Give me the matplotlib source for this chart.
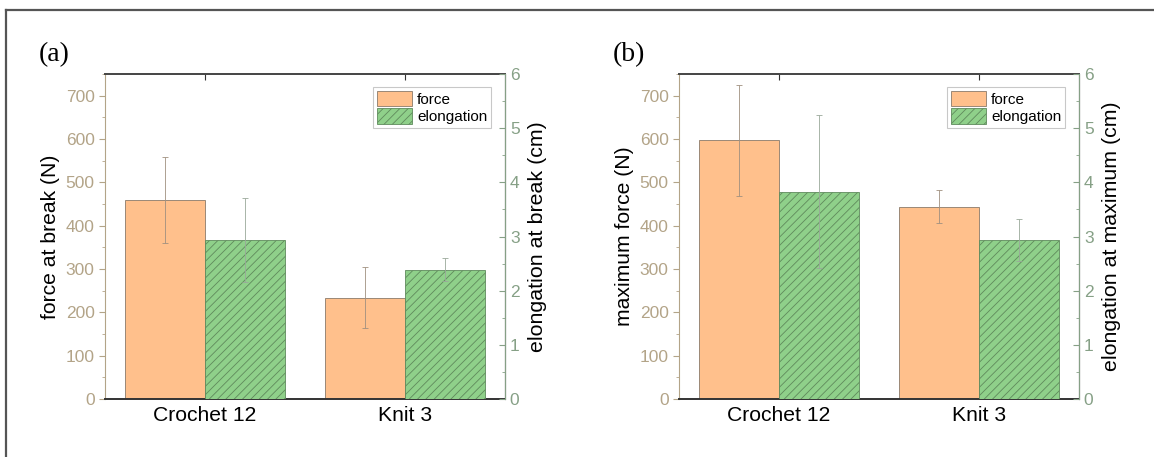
import numpy as np
import matplotlib
matplotlib.use("Agg")
import matplotlib.pyplot as plt
from matplotlib.lines import Line2D

plt.rcParams['font.family'] = ['Liberation Sans', 'DejaVu Sans']
plt.rcParams['hatch.linewidth'] = 0.6

# data
samples = ["Crochet 12", "Knit 3"]

break_force = [460, 234]
break_force_err = [99, 71]
break_elong = [2.94, 2.39]
break_elong_err = [0.78, 0.21]

max_force = [597, 444]
max_force_err = [128, 38]
max_elong = [3.83, 2.94]
max_elong_err = [1.41, 0.39]

panels = [
    ("(a)", "force at break (N)", "elongation at break (cm)",
     break_force, break_force_err, break_elong, break_elong_err),
    ("(b)", "maximum force (N)", "elongation at maximum (cm)",
     max_force, max_force_err, max_elong, max_elong_err),
]

tan = "#b3a488"
sage = "#86a086"
peach = "#ffc08c"
green = "#8fd08a"

fig = plt.figure(figsize=(11.54, 4.57), dpi=100)

# frame around the figure (only top and left visible in original)
fig.add_artist(Line2D([6/1154, 6/1154], [0, 1 - 10/457], transform=fig.transFigure,
                      color="#555555", lw=1.6))
fig.add_artist(Line2D([6/1154, 1], [1 - 10/457, 1 - 10/457], transform=fig.transFigure,
                      color="#555555", lw=1.6))

lefts = [105/1154, 679/1154]
x = np.arange(1, len(samples) + 1)
w = 0.4

for left, (tag, ylab, ylab2, f, fe, e, ee) in zip(lefts, panels):
    ax = fig.add_axes([left, 1 - 399/457, 400/1154, 325/457])
    ax2 = ax.twinx()

    b1 = ax.bar(x - w/2, f, w, color=peach, edgecolor="#8a7a6a", linewidth=0.6,
                label="force", zorder=2)
    ax.errorbar(x - w/2, f, yerr=fe, fmt="none", ecolor="#a09080", elinewidth=0.6,
                capsize=2, capthick=0.6, zorder=3)
    b2 = ax2.bar(x + w/2, e, w, color=green, edgecolor="#5f8a5c", hatch="////",
                 linewidth=0.6, label="elongation", zorder=2)
    ax2.errorbar(x + w/2, e, yerr=ee, fmt="none", ecolor="#9aa89a", elinewidth=0.6,
                 capsize=2, capthick=0.6, zorder=3)

    ax.set_xlim(0.5, 2.5)
    ax.set_ylim(0, 750)
    ax2.set_ylim(0, 6)
    ax.set_xticks(x)
    ax.set_xticklabels(samples, fontsize=15.2)
    ax.set_yticks(np.arange(0, 701, 100))
    ax.set_yticks(np.arange(50, 751, 100), minor=True)
    ax2.set_yticks(np.arange(0, 7, 1))
    ax2.set_yticks(np.arange(0.5, 6, 1), minor=True)

    ax.set_ylabel(ylab, fontsize=15.2, labelpad=4)
    ax2.set_ylabel(ylab2, fontsize=15.4, labelpad=6)

    ax.tick_params(axis="y", which="both", colors=tan, labelsize=12.5, direction="out")
    ax.tick_params(axis="y", which="major", length=4)
    ax.tick_params(axis="y", which="minor", length=2.5)
    ax.tick_params(axis="x", direction="in", length=4, top=True, color="#333333",
                   labelcolor="black", pad=5)
    ax2.tick_params(axis="y", which="both", colors=sage, labelsize=12.5, direction="in")
    ax2.tick_params(axis="y", which="major", length=4)
    ax2.tick_params(axis="y", which="minor", length=2.5)

    ax.spines["left"].set_color(tan)
    ax.spines["bottom"].set_color("#333333")
    ax.spines["top"].set_color("#444444")
    ax.spines["bottom"].set_linewidth(1.4)
    ax.spines["top"].set_linewidth(1.4)
    ax2.spines["right"].set_color(sage)
    ax2.spines["left"].set_visible(False)
    ax2.spines["top"].set_visible(False)
    ax2.spines["bottom"].set_visible(False)

    leg = ax2.legend([b1, b2], ["force", "elongation"], loc="upper right",
                     bbox_to_anchor=(0.965, 0.96), fontsize=11, frameon=True,
                     fancybox=False, edgecolor="#bbbbbb", handlelength=2.3,
                     handleheight=1.2, handletextpad=0.3, borderpad=0.25,
                     labelspacing=0.1, borderaxespad=0)
    leg.get_frame().set_linewidth(0.8)

    fig.text(left - 66/1154, 1 - 55/457, tag, fontsize=20, family="Liberation Serif",
             va="center", ha="left")

fig.savefig("out.png", dpi=100)
